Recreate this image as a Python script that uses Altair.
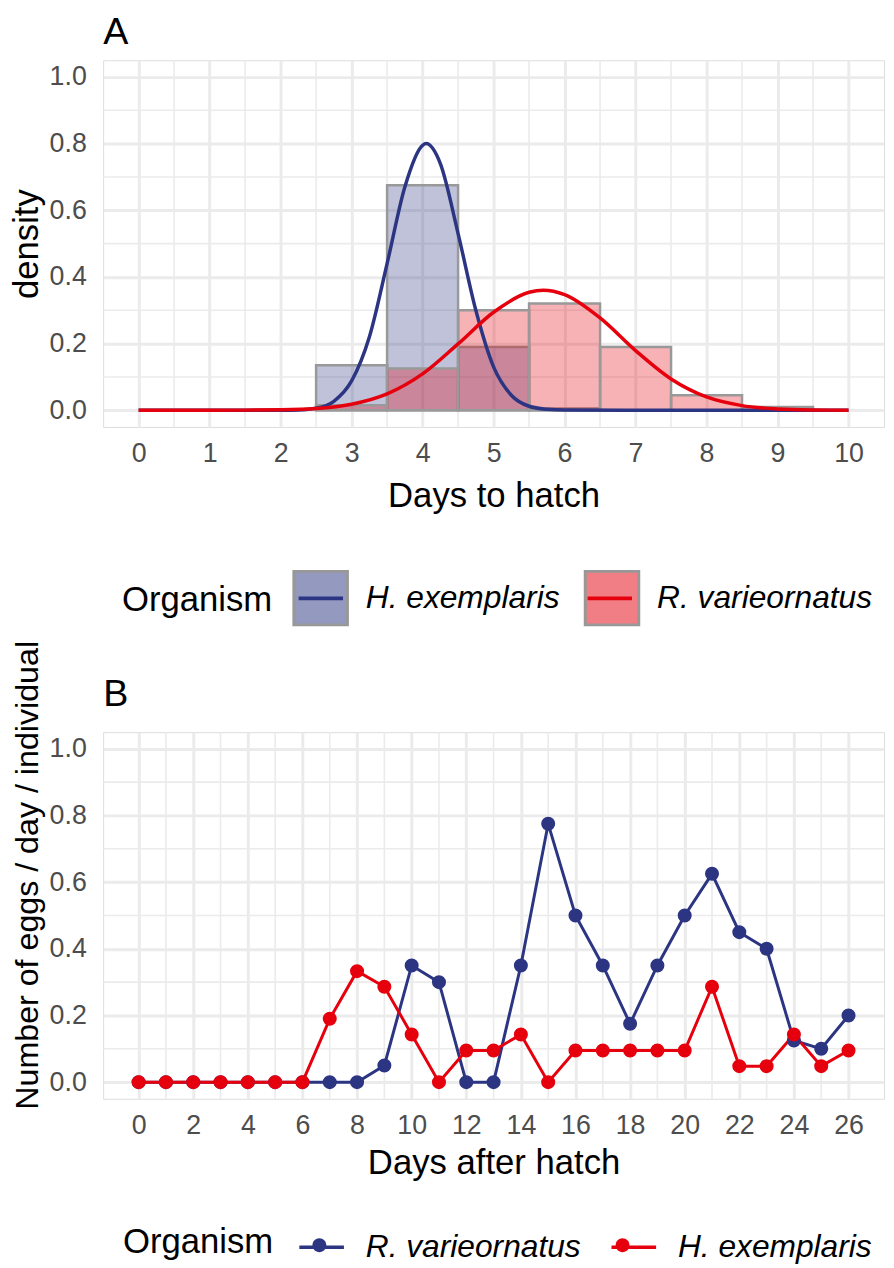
import altair as alt
import pandas as pd

# ---------------- Panel A data ----------------
panel_labels = ["A", "B"]
organisms_a = ["H. exemplaris", "R. varieornatus"]
hex_bin_centers = [3, 4, 5, 6]
hex_bin_density = [0.135, 0.675, 0.19, 0.005]
rva_bin_centers = [3, 4, 5, 6, 7, 8, 9]
rva_bin_density = [0.015, 0.125, 0.30, 0.32, 0.19, 0.045, 0.01]

hex_curve_x = [0, 1, 2, 2.25, 2.5, 2.75, 3, 3.25, 3.5, 3.75, 4, 4.05, 4.25, 4.5, 4.75, 5, 5.25, 5.5, 5.75, 6, 7, 8, 9, 10]
hex_curve_y = [0, 0, 0, 0.001, 0.006, 0.027, 0.088, 0.22, 0.44, 0.67, 0.795, 0.80, 0.74, 0.53, 0.30, 0.13, 0.045, 0.012, 0.003, 0.0005, 0, 0, 0, 0]
rva_curve_x = [0, 1, 1.5, 2, 2.5, 3, 3.5, 4, 4.5, 5, 5.5, 5.7, 6, 6.5, 7, 7.5, 8, 8.5, 9, 9.5, 10]
rva_curve_y = [0, 0.0001, 0.0004, 0.0013, 0.005, 0.018, 0.049, 0.109, 0.199, 0.294, 0.354, 0.36, 0.347, 0.277, 0.179, 0.094, 0.040, 0.014, 0.004, 0.001, 0.0002]

a_x_ticks = [0, 1, 2, 3, 4, 5, 6, 7, 8, 9, 10]
a_x_minor = [0.5, 1.5, 2.5, 3.5, 4.5, 5.5, 6.5, 7.5, 8.5, 9.5]
y_ticks = [0, 0.2, 0.4, 0.6, 0.8, 1.0]
y_minor = [0.1, 0.3, 0.5, 0.7, 0.9]

# ---------------- Panel B data ----------------
organisms_b = ["R. varieornatus", "H. exemplaris"]
days = [0, 1, 2, 3, 4, 5, 6, 7, 8, 9, 10, 11, 12, 13, 14, 15, 16, 17, 18, 19, 20, 21, 22, 23, 24, 25, 26]
rva_eggs = [0, 0, 0, 0, 0, 0, 0, 0, 0, 0.05, 0.35, 0.30, 0, 0, 0.35, 0.775, 0.50, 0.35, 0.175, 0.35, 0.50, 0.625, 0.45, 0.40, 0.125, 0.10, 0.20]
hex_eggs = [0, 0, 0, 0, 0, 0, 0, 0.19, 0.333, 0.286, 0.143, 0, 0.095, 0.095, 0.143, 0, 0.095, 0.095, 0.095, 0.095, 0.095, 0.286, 0.048, 0.048, 0.143, 0.048, 0.095]
b_x_ticks = [0, 2, 4, 6, 8, 10, 12, 14, 16, 18, 20, 22, 24, 26]
b_x_minor = [1, 3, 5, 7, 9, 11, 13, 15, 17, 19, 21, 23, 25]

# ---------------- styling ----------------
NAVY = "#2C3582"
RED = "#E6000D"
GRID = "#EBEBEB"
FONT = "Liberation Sans"
W, H = 788, 370
TITLE_W = 4.334 * 35      # legend title "Organism" at 35px (Arial metrics)
LABEL_A1_W = 6.112 * 32   # "H. exemplaris" at 32px
LABEL_B1_W = 6.78 * 32    # "R. varieornatus" at 32px

bars = pd.DataFrame(
    [{"Organism": organisms_a[0], "c": c, "d": d} for c, d in zip(hex_bin_centers, hex_bin_density)]
    + [{"Organism": organisms_a[1], "c": c, "d": d} for c, d in zip(rva_bin_centers, rva_bin_density)]
)
bars["x0"] = bars["c"] - 0.5
bars["x1"] = bars["c"] + 0.5
bars["y0"] = 0.0

curves = pd.DataFrame(
    [{"Species": organisms_a[0], "x": x, "y": y} for x, y in zip(hex_curve_x, hex_curve_y)]
    + [{"Species": organisms_a[1], "x": x, "y": y} for x, y in zip(rva_curve_x, rva_curve_y)]
)

eggs = pd.DataFrame(
    [{"Organism": organisms_b[0], "Species": organisms_b[0], "day": d, "v": v} for d, v in zip(days, rva_eggs)]
    + [{"Organism": organisms_b[1], "Species": organisms_b[1], "day": d, "v": v} for d, v in zip(days, hex_eggs)]
)


def axis_x(values, title, title_pad):
    return alt.Axis(values=values, format="d", title=title, grid=True, gridColor=GRID, gridWidth=3,
                    ticks=False, domain=False, labelFontSize=27, labelColor="#4D4D4D",
                    labelPadding=14, labelFont=FONT, titleFont=FONT, titleFontSize=35,
                    titleFontWeight="normal", titleColor="black", titlePadding=title_pad,
                    labelFlush=False, labelOverlap=False)


def axis_y(title, title_size, **kw):
    return alt.Axis(values=y_ticks, format=".1f", title=title, grid=True, gridColor=GRID,
                    gridWidth=3, ticks=False, domain=False, labelFontSize=27,
                    labelColor="#4D4D4D", labelPadding=17, labelFont=FONT, titleFont=FONT,
                    titleFontSize=title_size, titleFontWeight="normal", titleColor="black",
                    titlePadding=5, labelFlush=False, labelOverlap=False, **kw)


def shown_legend(legend_x, legend_y, sym_type, sym_size, title_pad, label_off, col_pad, **kw):
    return alt.Legend(
        title="Organism", orient="none", legendX=legend_x, legendY=legend_y,
        direction="horizontal", titleOrient="left", titleAnchor="middle",
        titleBaseline="middle", titleFont=FONT, titleFontSize=35, titleFontWeight="normal",
        titleColor="black", titlePadding=title_pad, labelFont=FONT, labelFontSize=32,
        labelFontStyle="italic", labelColor="black", labelOffset=label_off,
        columnPadding=col_pad, labelLimit=500, symbolType=sym_type, symbolSize=sym_size,
        padding=0, **kw)


def overlay_legend(legend_x, legend_y, sym_type, sym_size, label_off, col_pad, **kw):
    # symbol-only legend laid exactly over the shown one (blank labels)
    return alt.Legend(
        title=None, orient="none", legendX=legend_x, legendY=legend_y,
        direction="horizontal", labelFont=FONT, labelFontSize=32,
        labelOffset=label_off, columnPadding=col_pad, labelLimit=500,
        labelExpr="' '", symbolType=sym_type, symbolSize=sym_size, padding=0, **kw)


def panel_tag(label, y_px):
    return alt.Chart(pd.DataFrame({"tag": [label]})).mark_text(
        align="left", baseline="top", fontSize=38, font=FONT, color="black"
    ).encode(x=alt.value(0), y=alt.value(y_px), text="tag:N")


# ---------------- Panel A ----------------
xa = alt.Scale(domain=[-0.5, 10.5], nice=False, zero=False)
ya = alt.Scale(domain=[-0.05, 1.05], nice=False, zero=False)
ax_xa = axis_x(a_x_ticks, "Days to hatch", 12)
ax_ya = axis_y("density", 35)

minor_xa = alt.Chart(pd.DataFrame({"v": a_x_minor})).mark_rule(color=GRID, strokeWidth=1.6).encode(
    x=alt.X("v:Q", scale=xa, axis=ax_xa))
minor_ya = alt.Chart(pd.DataFrame({"v": y_minor})).mark_rule(color=GRID, strokeWidth=1.6).encode(
    y=alt.Y("v:Q", scale=ya, axis=ax_ya))

LEG_A_X, LEG_A_Y = 19, 514
hist = alt.Chart(bars).mark_rect(stroke="#999999", strokeWidth=2.5, fillOpacity=0.3).encode(
    x=alt.X("x0:Q", scale=xa, axis=ax_xa),
    x2="x1:Q",
    y=alt.Y("y0:Q", scale=ya, axis=ax_ya),
    y2="d:Q",
    fill=alt.Fill("Organism:N", scale=alt.Scale(domain=organisms_a, range=[NAVY, RED]),
                  legend=shown_legend(LEG_A_X, LEG_A_Y, "square", 2916, 20, 17, 19,
                                      symbolStrokeColor="#333333", symbolStrokeWidth=3,
                                      symbolOpacity=0.5)),
)

dens = alt.Chart(curves).mark_line(strokeWidth=3.5, interpolate="monotone").encode(
    x=alt.X("x:Q", scale=xa),
    y=alt.Y("y:Q", scale=ya),
    stroke=alt.Stroke("Species:N", scale=alt.Scale(domain=organisms_a, range=[NAVY, RED]),
                      legend=overlay_legend(LEG_A_X + TITLE_W + 20, LEG_A_Y, "M-0.83,0H0.83", 2916,
                                            17, 19 + LABEL_A1_W, symbolStrokeWidth=4)),
)

chart_a = alt.layer(minor_xa, minor_ya, hist, dens, panel_tag(panel_labels[0], -46)).resolve_scale(
    fill="independent", stroke="independent").properties(width=W, height=H)

# ---------------- Panel B ----------------
xb = alt.Scale(domain=[-1.3, 27.3], nice=False, zero=False)
yb = alt.Scale(domain=[-0.05, 1.05], nice=False, zero=False)
ax_xb = axis_x(b_x_ticks, "Days after hatch", 7)
ax_yb = axis_y("Number of eggs / day / individual", 32.5, titleY=144)

minor_xb = alt.Chart(pd.DataFrame({"v": b_x_minor})).mark_rule(color=GRID, strokeWidth=1.6).encode(
    x=alt.X("v:Q", scale=xb, axis=ax_xb))
minor_yb = alt.Chart(pd.DataFrame({"v": y_minor})).mark_rule(color=GRID, strokeWidth=1.6).encode(
    y=alt.Y("v:Q", scale=yb, axis=ax_yb))

LEG_B_X, LEG_B_Y = 20, 495
base_b = alt.Chart(eggs)
lines_b = base_b.mark_line(strokeWidth=3).encode(
    x=alt.X("day:Q", scale=xb, axis=ax_xb),
    y=alt.Y("v:Q", scale=yb, axis=ax_yb),
    stroke=alt.Stroke("Organism:N", scale=alt.Scale(domain=organisms_b, range=[NAVY, RED]),
                      legend=shown_legend(LEG_B_X, LEG_B_Y, "M-1,0H1", 2025, 24, 20, 24,
                                          symbolStrokeWidth=3.5)),
    detail="Organism:N",
)
pts_b = base_b.mark_circle(size=200, opacity=1).encode(
    x=alt.X("day:Q", scale=xb),
    y=alt.Y("v:Q", scale=yb),
    fill=alt.Fill("Species:N", scale=alt.Scale(domain=organisms_b, range=[NAVY, RED]),
                  legend=overlay_legend(LEG_B_X + TITLE_W + 24, LEG_B_Y,
                                        "M-0.31,0A0.31,0.31,0,1,1,0.31,0A0.31,0.31,0,1,1,-0.31,0Z",
                                        2025, 20, 24 + LABEL_B1_W, symbolStrokeWidth=0)),
)

chart_b = alt.layer(minor_xb, minor_yb, lines_b, pts_b, panel_tag(panel_labels[1], -56)).resolve_scale(
    fill="independent", stroke="independent").properties(width=W, height=H)

chart = alt.vconcat(chart_a, chart_b, spacing=308, bounds="flush").resolve_scale(
    fill="independent", stroke="independent", x="independent", y="independent"
).properties(padding=0).configure_view(stroke="#333333", strokeWidth=2).configure(font=FONT)

chart.save("out.html", embed_options={"renderer": "svg", "actions": False})
